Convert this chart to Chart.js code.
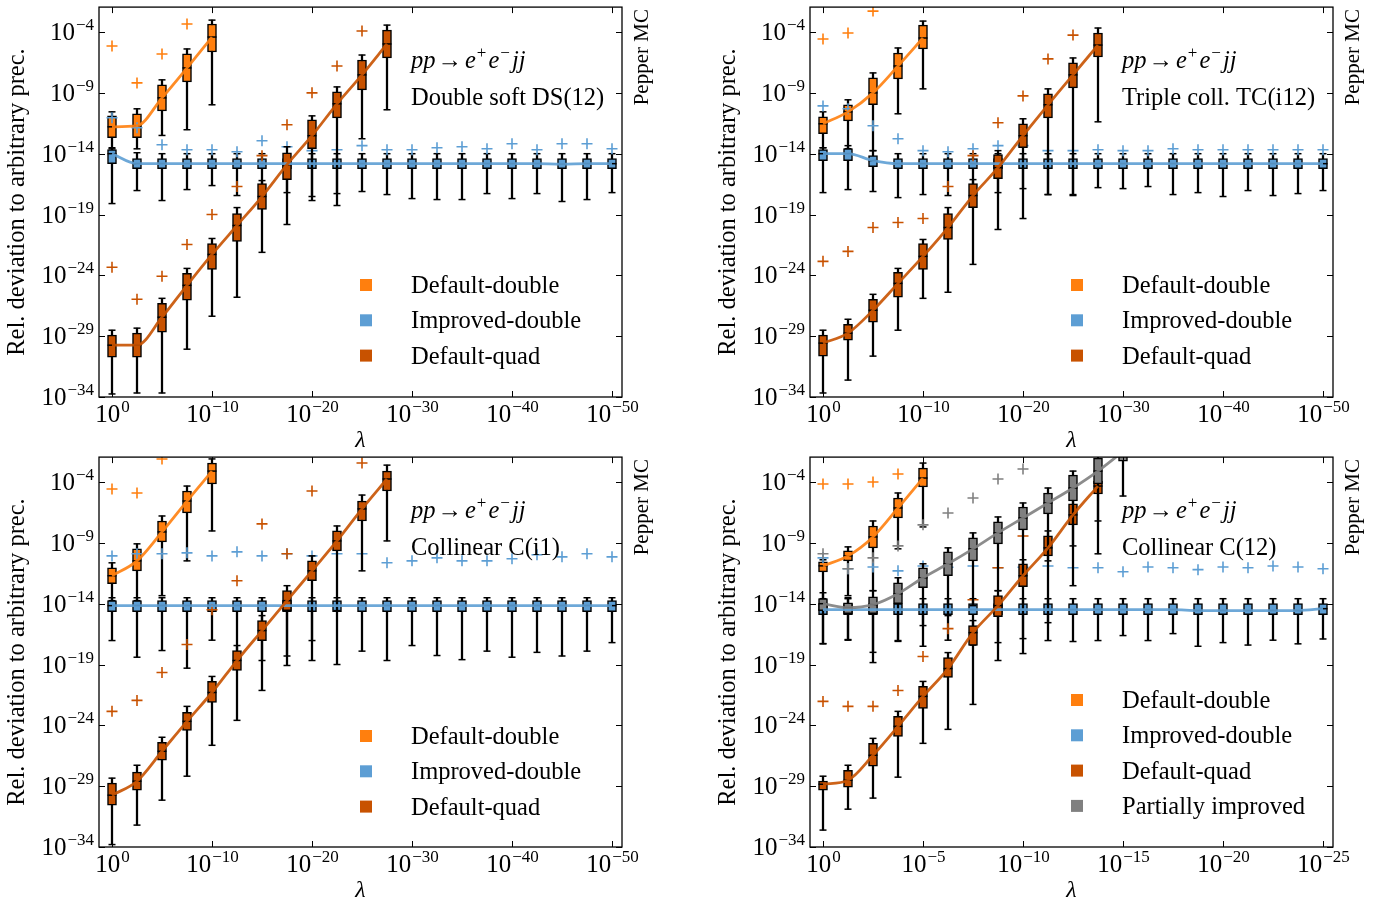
<!DOCTYPE html>
<html>
<head>
<meta charset="utf-8">
<script src="https://cdn.jsdelivr.net/npm/chart.js@4.4.1/dist/chart.umd.min.js"></script>
<style>
body { margin: 0; background: #fff; width: 1385px; height: 905px; position: relative; overflow: hidden; }
canvas { position: absolute; }
</style>
</head>
<body>
<canvas id="c1" width="692" height="452" style="left:0px;top:0px"></canvas>
<canvas id="c2" width="692" height="452" style="left:711px;top:0px"></canvas>
<canvas id="c3" width="692" height="452" style="left:0px;top:450px"></canvas>
<canvas id="c4" width="692" height="452" style="left:711px;top:450px"></canvas>
<script>
// colours of the four setups
const c_def_double = 'rgb(255,127,14)'
const c_imp_double = 'rgb(93,158,212)'
const c_def_quad = 'rgb(200,82,0)'
const c_partial = 'rgb(128,128,128)'

// log10(lambda) of every box
const lambda_wide = [0, -2.5, -5, -7.5, -10, -12.5, -15, -17.5, -20, -22.5, -25, -27.5, -30, -32.5, -35, -37.5, -40, -42.5, -45, -47.5, -50]
const lambda_narrow = [0, -1.25, -2.5, -3.75, -5, -6.25, -7.5, -8.75, -10, -11.25, -12.5, -13.75, -15, -16.25, -17.5, -18.75, -20, -21.25, -22.5, -23.75, -25]

const x_ticks_wide = [0, -10, -20, -30, -40, -50]
const x_ticks_narrow = [0, -5, -10, -15, -20, -25]
const y_ticks = [-34, -29, -24, -19, -14, -9, -4]

const legend_labels = ['Default-double', 'Improved-double', 'Default-quad', 'Partially improved']

// boxes: log10 of [whisker low, q1, median, q3, whisker high]; outliers: log10 of the '+' marks

// ---- Double soft DS(12)
const ds_def_double = [
    [-13.6, -12.69, -11.79, -10.89, -10.56], [-13.6, -12.69, -11.7, -10.72, -10.31], [-12.5, -10.48, -9.41, -8.34, -7.93],
    [-12.03, -8.1, -6.95, -5.8, -5.39], [-9.98, -5.64, -4.41, -3.34, -3.02]]
const ds_def_double_out = [-5.15, -8.18, -5.8, -3.34, null]
const ds_imp_double = [
    [-18.1, -14.82, -14.0, -13.67, -13.51], [-17.03, -15.23, -14.82, -14.41, -13.92], [-17.85, -15.23, -14.82, -14.41, -14.0],
    [-16.95, -15.23, -14.82, -14.41, -14.0], [-16.62, -15.23, -14.82, -14.41, -14.0], [-17.44, -15.23, -14.82, -14.41, -14.0],
    [-16.9, -15.23, -14.82, -14.41, -14.0], [-17.2, -15.23, -14.82, -14.41, -14.0], [-17.52, -15.23, -14.82, -14.41, -14.0],
    [-17.28, -15.23, -14.82, -14.41, -14.0], [-17.11, -15.23, -14.82, -14.41, -14.0], [-17.36, -15.23, -14.82, -14.41, -14.0],
    [-17.69, -15.23, -14.82, -14.41, -14.0], [-17.77, -15.23, -14.82, -14.41, -14.0], [-17.77, -15.23, -14.82, -14.41, -14.0],
    [-17.28, -15.23, -14.82, -14.41, -14.0], [-17.69, -15.23, -14.82, -14.41, -14.0], [-17.28, -15.23, -14.82, -14.41, -14.0],
    [-17.93, -15.23, -14.85, -14.41, -14.0], [-17.77, -15.23, -14.82, -14.41, -14.0], [-17.2, -15.23, -14.82, -14.41, -14.0]]
const ds_imp_double_out = [-11.05, -11.87, -13.26, -13.67, -13.67, -13.84, -12.93, -13.43, -13.75, -13.67, -13.34,
    -13.67, -13.67, -13.51, -13.43, -13.59, -13.18, -13.67, -13.18, -13.18, -13.59]
const ds_def_quad = [
    [-33.75, -30.72, -29.74, -28.92, -28.51], [-33.67, -30.72, -29.74, -28.75, -28.34], [-33.67, -28.67, -27.44, -26.3, -25.89],
    [-30.07, -26.05, -24.82, -23.84, -23.43], [-27.36, -23.51, -22.28, -21.38, -20.97], [-25.8, -21.21, -19.9, -18.92, -18.43],
    [-22.11, -18.59, -17.52, -16.46, -16.21], [-19.82, -16.13, -14.9, -13.92, -13.43], [-17.85, -13.59, -12.52, -11.21, -10.89],
    [-18.26, -11.05, -9.9, -8.92, -8.51], [-12.77, -8.75, -7.52, -6.3, -5.89], [-10.39, -6.13, -4.98, -3.84, -3.43]]
const ds_def_quad_out = [-23.34, -25.97, -24.08, -21.46, -19.0, -16.7, -14.16, -11.62, -9.0, -6.79, -3.92, null]

// ---- Triple coll. TC(i12)
const tc_def_double = [
    [-13.51, -12.36, -11.54, -10.97, -10.56], [-13.59, -11.3, -10.56, -9.98, -9.57], [-13.75, -9.98, -9.0, -7.77, -7.36],
    [-10.72, -7.85, -6.79, -5.72, -5.31], [-8.67, -5.39, -4.49, -3.43, -3.1]]
const tc_def_double_out = [-4.57, -4.08, -2.28, null, null]
const tc_imp_double = [
    [-17.2, -14.57, -14.0, -13.67, -13.51], [-16.95, -14.57, -14.0, -13.59, -13.34], [-17.11, -15.07, -14.57, -14.16, -13.75],
    [-17.61, -15.23, -14.82, -14.41, -14.0], [-17.36, -15.23, -14.82, -14.41, -14.0], [-17.44, -15.23, -14.82, -14.41, -14.0],
    [-17.03, -15.23, -14.82, -14.41, -14.0], [-17.2, -15.23, -14.82, -14.41, -14.0], [-16.87, -15.23, -14.82, -14.41, -14.0],
    [-17.36, -15.23, -14.82, -14.41, -14.0], [-17.36, -15.23, -14.82, -14.41, -14.0], [-16.79, -15.23, -14.82, -14.41, -14.0],
    [-16.87, -15.23, -14.82, -14.41, -14.0], [-16.7, -15.23, -14.82, -14.41, -14.0], [-17.36, -15.23, -14.82, -14.41, -14.0],
    [-17.2, -15.23, -14.82, -14.41, -14.0], [-17.52, -15.23, -14.82, -14.41, -14.0], [-17.03, -15.23, -14.82, -14.41, -14.0],
    [-17.44, -15.23, -14.82, -14.41, -14.0], [-17.28, -15.23, -14.82, -14.41, -14.0], [-17.03, -15.23, -14.82, -14.41, -14.0]]
const tc_imp_double_out = [-10.07, -10.31, -11.7, -12.77, -13.75, -13.84, -13.59, -13.34, -13.34, -13.75, -13.75,
    -13.67, -13.75, -13.75, -13.59, -13.67, -13.67, -13.67, -13.67, -13.67, -13.67]
const tc_def_quad = [
    [-33.67, -30.64, -29.57, -28.92, -28.51], [-32.61, -29.33, -28.75, -28.02, -27.61], [-30.64, -27.85, -26.87, -25.97, -25.56],
    [-28.51, -25.8, -24.66, -23.75, -23.43], [-25.89, -23.51, -22.44, -21.38, -21.05], [-25.39, -21.05, -20.07, -18.92, -18.43],
    [-23.1, -18.43, -17.44, -16.46, -16.13], [-20.23, -16.05, -15.15, -14.08, -13.75], [-19.33, -13.51, -12.52, -11.54, -11.13],
    [-17.36, -11.05, -9.98, -9.08, -8.67], [-17.44, -8.59, -7.52, -6.54, -6.13], [-11.38, -6.05, -5.07, -4.08, -3.67]]
const tc_def_quad_out = [-22.85, -22.03, -20.07, -19.66, -19.33, -16.7, -14.16, -11.46, -9.25, -6.21, -4.25, null]

// ---- Collinear C(i1)
const ci_def_double = [
    [-13.75, -12.36, -11.7, -11.05, -10.64], [-13.75, -11.3, -10.48, -9.49, -9.08], [-13.34, -8.92, -8.1, -7.2, -6.79],
    [-10.48, -6.54, -5.56, -4.74, -4.33], [-8.02, -4.16, -3.1, -2.44, -2.1]]
const ci_def_double_out = [-4.57, -4.9, -2.11, null, null]
const ci_imp_double = [
    [-17.03, -14.66, -14.16, -13.75, -13.51], [-18.4, -14.66, -14.16, -13.75, -13.51], [-17.85, -14.66, -14.16, -13.75, -13.51],
    [-19.3, -14.66, -14.16, -13.75, -13.51], [-17.0, -14.66, -14.16, -13.75, -13.51], [-18.67, -14.66, -14.16, -13.75, -13.51],
    [-18.67, -14.66, -14.16, -13.75, -13.51], [-18.3, -14.66, -14.16, -13.75, -13.51], [-18.67, -14.66, -14.16, -13.75, -13.51],
    [-19.0, -14.66, -14.16, -13.75, -13.51], [-17.9, -14.66, -14.16, -13.75, -13.51], [-18.67, -14.66, -14.16, -13.75, -13.51],
    [-17.44, -14.66, -14.16, -13.75, -13.51], [-18.26, -14.66, -14.16, -13.75, -13.51], [-18.6, -14.66, -14.16, -13.75, -13.51],
    [-17.9, -14.66, -14.16, -13.75, -13.51], [-18.4, -14.66, -14.16, -13.75, -13.51], [-18.0, -14.66, -14.16, -13.75, -13.51],
    [-18.3, -14.66, -14.16, -13.75, -13.51], [-17.9, -14.66, -14.16, -13.75, -13.51], [-17.2, -14.66, -14.16, -13.75, -13.51]]
const ci_imp_double_out = [-10.07, -9.9, -9.9, -9.82, -10.07, -9.74, -10.07, -9.9, -10.07, -9.9, -9.9,
    -10.64, -10.48, -10.23, -10.48, -10.48, -10.31, -9.98, -10.15, -9.9, -10.15]
const ci_def_quad = [
    [-33.8, -30.56, -29.74, -28.75, -28.34], [-32.2, -29.33, -28.59, -27.85, -27.28], [-30.15, -26.87, -26.13, -25.39, -24.98],
    [-28.18, -24.41, -23.67, -22.93, -22.44], [-25.64, -22.11, -21.3, -20.39, -19.98], [-23.59, -19.49, -18.67, -17.85, -17.44],
    [-21.13, -17.03, -16.21, -15.39, -14.98], [-19.08, -14.57, -13.75, -12.93, -12.52], [-17.03, -12.11, -11.3, -10.48, -10.07],
    [-14.57, -9.66, -8.84, -8.02, -7.61], [-11.3, -7.2, -6.21, -5.56, -5.07], [-8.84, -4.74, -3.75, -3.1, -2.61]]
const ci_def_quad_out = [-22.85, -21.95, -19.66, -17.36, -14.5, -12.11, -7.44, -9.9, -4.74, null, -2.44, null]

// ---- Collinear C(12)
const cc_def_double = [
    [-13.75, -11.38, -10.89, -10.56, -10.39], [-13.34, -10.48, -10.07, -9.66, -9.33], [-12.93, -9.41, -8.51, -7.61, -7.2],
    [-9.49, -6.95, -6.13, -5.31, -4.9], [-7.69, -4.41, -3.67, -2.85, -2.44]]
const cc_def_double_out = [-4.16, -4.16, -4.0, -3.34, null]
const cc_imp_double = [
    [-17.3, -14.9, -14.49, -14.0, -13.59], [-17.0, -14.9, -14.49, -14.0, -13.59], [-18.0, -14.9, -14.49, -14.0, -13.59],
    [-17.1, -14.9, -14.49, -14.0, -13.59], [-17.5, -14.9, -14.49, -14.0, -13.59], [-17.0, -14.9, -14.49, -14.0, -13.59],
    [-17.4, -14.9, -14.49, -14.0, -13.59], [-17.2, -14.9, -14.49, -14.0, -13.59], [-18.1, -14.9, -14.49, -14.0, -13.59],
    [-17.03, -14.9, -14.49, -14.0, -13.59], [-17.11, -14.9, -14.49, -14.0, -13.59], [-17.03, -14.9, -14.49, -14.0, -13.59],
    [-16.62, -14.9, -14.49, -14.0, -13.59], [-17.03, -14.9, -14.49, -14.0, -13.59], [-16.46, -14.9, -14.49, -14.0, -13.59],
    [-17.5, -14.9, -14.57, -14.0, -13.59], [-17.2, -14.9, -14.57, -14.0, -13.59], [-17.4, -14.9, -14.57, -14.0, -13.59],
    [-17.0, -14.9, -14.57, -14.0, -13.59], [-17.3, -14.9, -14.57, -14.0, -13.59], [-16.9, -14.9, -14.41, -14.0, -13.59]]
const cc_imp_double_out = [-10.23, -11.13, -10.98, -11.3, -10.9, -11.0, -10.9, -11.05, -11.0, -10.9, -11.05,
    -11.05, -11.38, -10.98, -11.05, -11.2, -10.98, -11.05, -10.9, -10.98, -11.13]
const cc_def_quad = [
    [-32.61, -29.33, -28.84, -28.59, -28.18], [-30.89, -29.08, -28.51, -27.69, -27.28], [-29.98, -27.36, -26.46, -25.48, -25.07],
    [-28.26, -24.9, -24.08, -23.26, -22.85], [-25.48, -22.61, -21.62, -20.8, -20.39], [-24.33, -20.07, -19.33, -18.43, -18.02],
    [-22.28, -17.44, -16.38, -15.8, -15.39], [-18.67, -15.07, -14.16, -13.34, -12.93], [-16.87, -12.61, -11.7, -10.72, -10.39],
    [-15.56, -10.07, -9.41, -8.43, -8.02], [-12.52, -7.52, -6.7, -5.8, -5.39], [-9.9, -4.98, -4.33, -3.92, -3.75]]
const cc_def_quad_out = [-22.03, -22.44, -22.44, -21.13, -18.34, -16.05, -13.67, -11.05, -8.43, null, null, null]
const cc_partial = [
    [-17.28, -14.57, -14.0, -13.59, -13.1], [-16.95, -14.82, -14.33, -13.92, -13.51], [-18.84, -14.82, -14.08, -13.43, -12.93],
    [-17.03, -14.0, -13.18, -12.28, -11.87], [-15.8, -12.69, -11.87, -11.05, -10.72], [-14.98, -11.7, -10.72, -9.74, -9.41],
    [-14.16, -10.48, -9.49, -8.59, -8.18], [-12.93, -9.08, -8.18, -7.28, -6.87], [-11.7, -7.93, -6.95, -6.05, -5.72],
    [-10.48, -6.62, -5.72, -4.9, -4.49], [-9.25, -5.56, -4.49, -3.43, -3.1], [-7.2, -4.16, -3.1, -2.03, -1.62],
    [-5.15, -2.28, -1.5, -0.8, -0.3]]
const cc_partial_out = [-9.9, -11.13, -10.23, -9.25, -7.52, -6.54, -5.31, -3.75, -2.93, null, null, null, null]

const panels = [
    {id: 'c1', xs: lambda_wide, x_min: -51, x_max: 1.3, x_ticks: x_ticks_wide, note: 'Double soft DS(12)', legend_y: 285,
     series: [[ds_def_double, ds_def_double_out, c_def_double], [ds_imp_double, ds_imp_double_out, c_imp_double],
              [ds_def_quad, ds_def_quad_out, c_def_quad]]},
    {id: 'c2', xs: lambda_wide, x_min: -51, x_max: 1.3, x_ticks: x_ticks_wide, note: 'Triple coll. TC(i12)', legend_y: 285,
     series: [[tc_def_double, tc_def_double_out, c_def_double], [tc_imp_double, tc_imp_double_out, c_imp_double],
              [tc_def_quad, tc_def_quad_out, c_def_quad]]},
    {id: 'c3', xs: lambda_wide, x_min: -51, x_max: 1.3, x_ticks: x_ticks_wide, note: 'Collinear C(i1)', legend_y: 286,
     series: [[ci_def_double, ci_def_double_out, c_def_double], [ci_imp_double, ci_imp_double_out, c_imp_double],
              [ci_def_quad, ci_def_quad_out, c_def_quad]]},
    {id: 'c4', xs: lambda_narrow, x_min: -25.5, x_max: 0.65, x_ticks: x_ticks_narrow, note: 'Collinear C(12)', legend_y: 250,
     series: [[cc_def_double, cc_def_double_out, c_def_double], [cc_imp_double, cc_imp_double_out, c_imp_double],
              [cc_def_quad, cc_def_quad_out, c_def_quad], [cc_partial, cc_partial_out, c_partial]]}
]

const SERIF = '"Liberation Serif", "Times New Roman", serif'

function box_datasets(xs, boxes, outliers, color, z)
{
    const pick = k => boxes.map((b, i) => ({x: xs[i], y: b[k]}))
    const marks = outliers.map((v, i) => ({x: xs[i], y: v})).filter(p => p.y !== null)
    return [
        {type: 'bar', grouped: false, order: -(z + 0), barThickness: 1.6, backgroundColor: '#000',
         data: boxes.map((b, i) => ({x: xs[i], y: [b[0], b[4]]}))},
        {type: 'line', showLine: false, order: -(z + 1), data: pick(4), pointStyle: 'line', pointRadius: 3.5,
         borderColor: '#000', borderWidth: 1.5},
        {type: 'line', showLine: false, order: -(z + 1), data: pick(0), pointStyle: 'line', pointRadius: 3.5,
         borderColor: '#000', borderWidth: 1.5},
        {type: 'bar', grouped: false, order: -(z + 2), barThickness: 9, backgroundColor: color, borderColor: '#000',
         borderWidth: 1.5, borderSkipped: false, data: boxes.map((b, i) => ({x: xs[i], y: [b[1], b[3]]}))},
        {type: 'line', showLine: false, order: -(z + 3), data: pick(2), pointStyle: 'line', pointRadius: 4.5,
         borderColor: '#000', borderWidth: 1.5},
        {type: 'line', showLine: false, order: -(z + 4), data: marks, pointStyle: 'cross', pointRadius: 5.5,
         borderColor: color, borderWidth: 1.6}
    ]
}

function draw_power(ctx, x, y, exp, align)
{
    const sup = exp === 0 ? '0' : '\u2212' + Math.abs(exp)
    ctx.font = '25px ' + SERIF
    const w1 = ctx.measureText('10').width
    ctx.font = '17px ' + SERIF
    const w2 = ctx.measureText(sup).width
    const x0 = align === 'center' ? x - (w1 + w2) / 2 : x - (w1 + w2)
    ctx.textAlign = 'left'
    ctx.textBaseline = 'alphabetic'
    ctx.font = '25px ' + SERIF
    ctx.fillText('10', x0, y)
    ctx.font = '17px ' + SERIF
    ctx.fillText(sup, x0 + w1 + 1, y - 10)
}

function draw_process(ctx, x, y)
{
    const parts = [['pp', 'italic ', 24.5, 0, 2], ['\u2192', '', 24.5, 0, 3], ['e', 'italic ', 24.5, 0, 1],
                   ['+', '', 17, -10, 2], ['e', 'italic ', 24.5, 0, 1], ['\u2212', '', 17, -10, 2], ['jj', 'italic ', 24.5, 0, 0]]
    ctx.textAlign = 'left'
    ctx.textBaseline = 'alphabetic'
    let cx = x
    parts.forEach(p =>
    {
        ctx.font = p[1] + p[2] + 'px ' + SERIF
        ctx.fillText(p[0], cx, y + p[3])
        cx += ctx.measureText(p[0]).width + p[4]
    })
}

const decor = {
    id: 'decor',
    afterDraw(chart)
    {
        const p = chart.options.plugins.decor
        const ctx = chart.ctx
        const a = chart.chartArea
        const sx = chart.scales.x
        const sy = chart.scales.y
        ctx.save()
        ctx.fillStyle = '#000'
        ctx.strokeStyle = '#000'
        ctx.lineWidth = 1.3
        ctx.strokeRect(a.left, a.top, a.right - a.left, a.bottom - a.top)

        ctx.lineWidth = 1
        ctx.beginPath()
        p.x_ticks.forEach(v =>
        {
            const x = Math.round(sx.getPixelForValue(v)) + 0.5
            ctx.moveTo(x, a.bottom); ctx.lineTo(x, a.bottom - 6)
            ctx.moveTo(x, a.top); ctx.lineTo(x, a.top + 6)
        })
        y_ticks.forEach(v =>
        {
            const y = Math.round(sy.getPixelForValue(v)) + 0.5
            ctx.moveTo(a.left, y); ctx.lineTo(a.left + 6, y)
            ctx.moveTo(a.right, y); ctx.lineTo(a.right - 6, y)
        })
        ctx.stroke()

        p.x_ticks.forEach(v => draw_power(ctx, sx.getPixelForValue(v), a.bottom + 25, v, 'center'))
        y_ticks.forEach(v => draw_power(ctx, a.left - 6, sy.getPixelForValue(v) + 8, v, 'right'))

        // axis titles
        ctx.font = 'italic 24px ' + SERIF
        ctx.textAlign = 'center'
        ctx.fillText('\u03bb', (a.left + a.right) / 2, a.bottom + 50)

        ctx.save()
        ctx.translate(18, (a.top + a.bottom) / 2)
        ctx.rotate(-Math.PI / 2)
        ctx.font = '24.5px ' + SERIF
        ctx.textAlign = 'center'
        ctx.textBaseline = 'middle'
        ctx.fillText('Rel. deviation to arbitrary prec.', 0, 0)
        ctx.restore()

        ctx.save()
        ctx.translate(a.right + 20, a.top + 2)
        ctx.rotate(-Math.PI / 2)
        ctx.font = '21px ' + SERIF
        ctx.textAlign = 'right'
        ctx.textBaseline = 'middle'
        ctx.fillText('Pepper MC', 0, 0)
        ctx.restore()

        // process and configuration
        draw_process(ctx, 411, 68)
        ctx.font = '24.5px ' + SERIF
        ctx.textAlign = 'left'
        ctx.fillText(p.note, 411, 105)

        // legend
        p.colors.forEach((c, i) =>
        {
            const y = p.legend_y + i * 35.3
            ctx.fillStyle = c
            ctx.fillRect(360, y - 6, 12, 12)
            ctx.fillStyle = '#000'
            ctx.font = '24.5px ' + SERIF
            ctx.textAlign = 'left'
            ctx.textBaseline = 'alphabetic'
            ctx.fillText(legend_labels[i], 411, y + 8)
        })
        ctx.restore()
    }
}

function build_panel(def)
{
    const datasets = []
    def.series.forEach((s, i) => datasets.push(...box_datasets(def.xs, s[0], s[1], s[2], i * 10)))
    def.series.forEach((s, i) => datasets.push({
        type: 'line', order: -(100 + i), data: s[0].map((b, k) => ({x: def.xs[k], y: b[2]})),
        borderColor: s[2].replace('rgb', 'rgba').replace(')', ',0.9)'), borderWidth: 2.8, pointRadius: 0,
        cubicInterpolationMode: 'monotone'
    }))

    const ctx = document.getElementById(def.id).getContext('2d')
    new Chart(ctx, {
        type: 'bar',
        data: {datasets: datasets},
        options: {
            responsive: false,
            animation: false,
            events: [],
            layout: {padding: {left: 0, top: 6, right: 70, bottom: 0}},
            scales: {
                x: {
                    type: 'linear', reverse: true, min: def.x_min, max: def.x_max, offset: false,
                    grid: {display: false}, border: {display: false}, ticks: {display: false},
                    afterFit: scale => { scale.height = 55 }
                },
                y: {
                    type: 'linear', min: -34, max: -1.95,
                    grid: {display: false}, border: {display: false}, ticks: {display: false},
                    afterFit: scale => { scale.width = 99 }
                }
            },
            plugins: {
                legend: {display: false},
                tooltip: {enabled: false},
                decor: {x_ticks: def.x_ticks, note: def.note, legend_y: def.legend_y, colors: def.series.map(s => s[2])}
            }
        },
        plugins: [decor]
    })
}

panels.forEach(build_panel)
</script>
</body>
</html>
